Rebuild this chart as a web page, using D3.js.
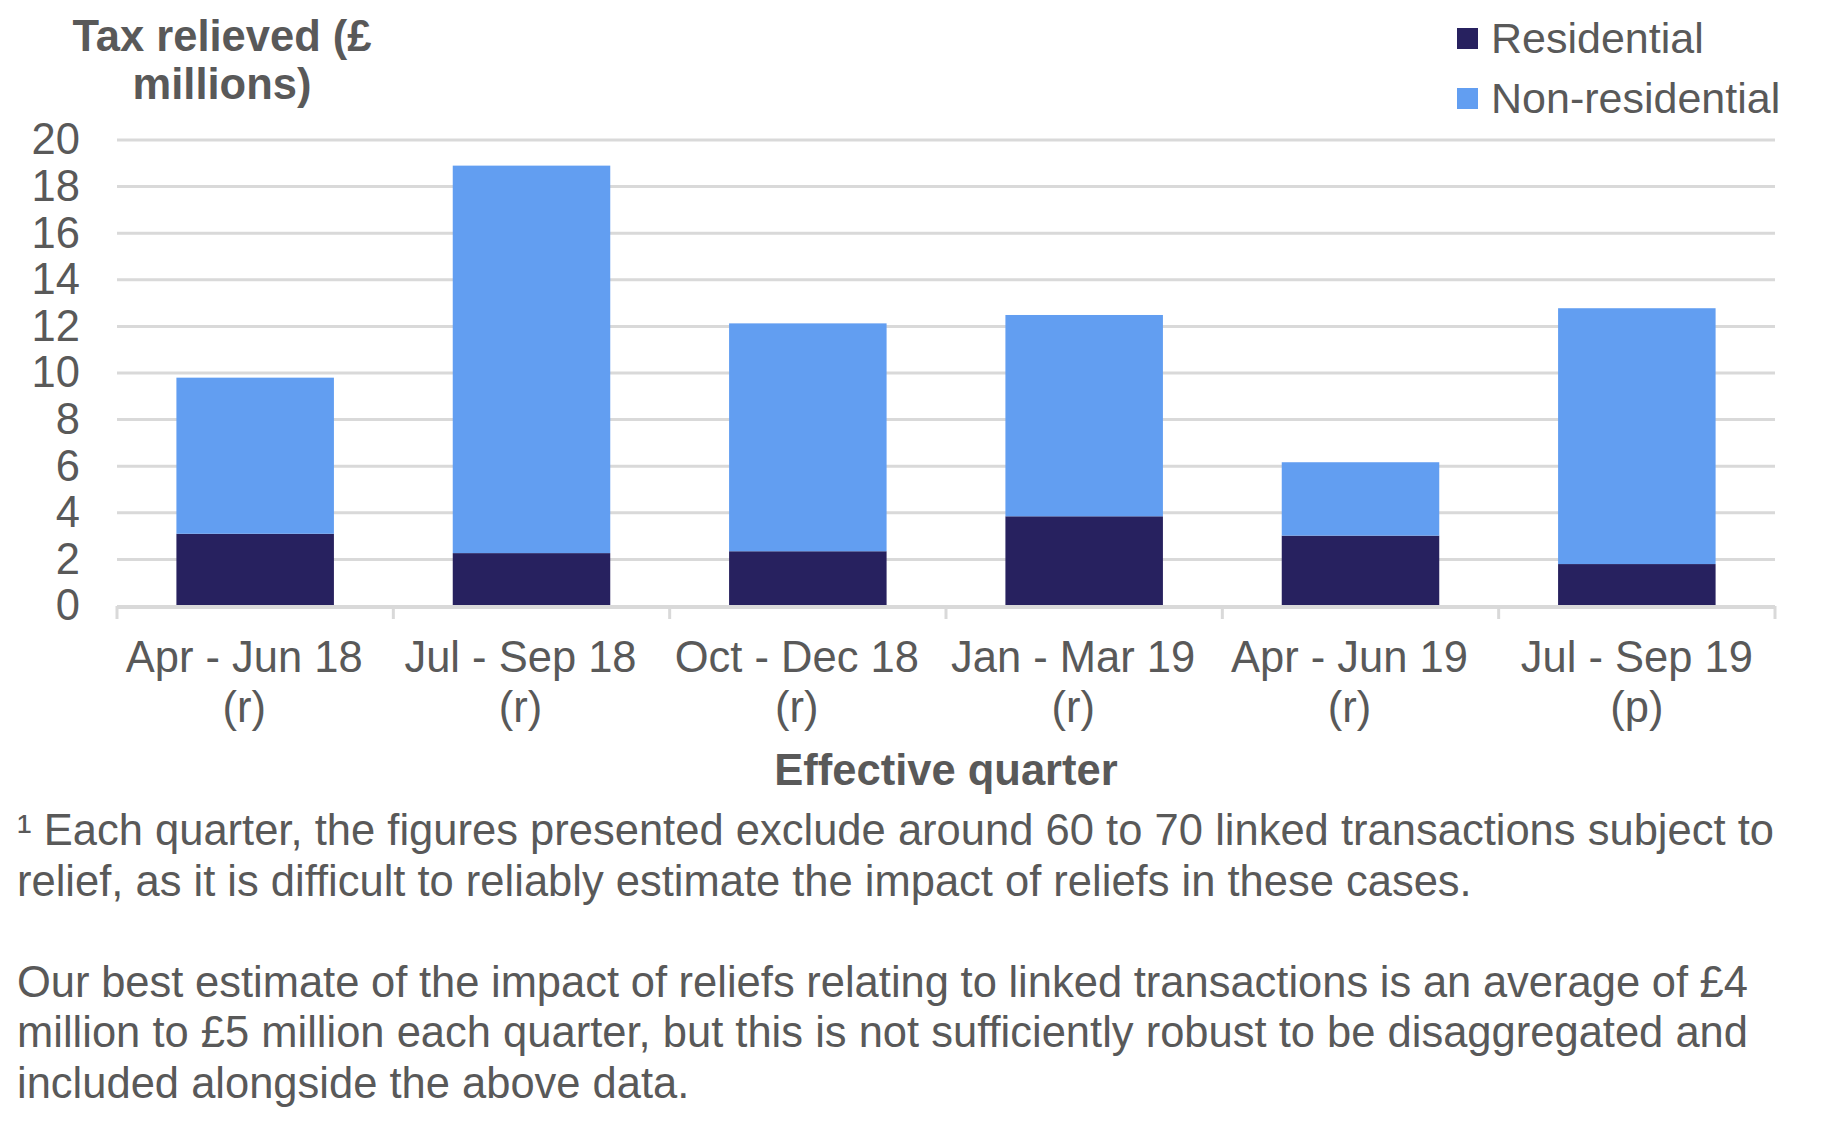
<!DOCTYPE html>
<html>
<head>
<meta charset="utf-8">
<script src="https://cdn.jsdelivr.net/npm/d3@7"></script>
<style>
  html, body { margin: 0; padding: 0; background: #fff; }
  svg { display: block; font-family: "Liberation Sans", Arial, sans-serif; }
</style>
</head>
<body>
<div id="chart"></div>
<script>
// quarters and their revision flag, shown on two lines under the axis
const quarters = ["Apr - Jun 18", "Jul - Sep 18", "Oct - Dec 18", "Jan - Mar 19", "Apr - Jun 19", "Jul - Sep 19"];
const flags = ["(r)", "(r)", "(r)", "(r)", "(r)", "(p)"];

// tax relieved, £ millions
const residential = [3.1, 2.27, 2.35, 3.85, 3.02, 1.8];
const nonResidential = [6.7, 16.63, 9.78, 8.64, 3.15, 10.98];

const series = ["Residential", "Non-residential"];
const yTicks = [0, 2, 4, 6, 8, 10, 12, 14, 16, 18, 20];

const footLines = [
  "\u00b9 Each quarter, the figures presented exclude around 60 to 70 linked transactions subject to",
  "relief, as it is difficult to reliably estimate the impact of reliefs in these cases.",
  "",
  "Our best estimate of the impact of reliefs relating to linked transactions is an average of \u00a34",
  "million to \u00a35 million each quarter, but this is not sufficiently robust to be disaggregated and",
  "included alongside the above data."
];
// lines that are stretched to the full width (justified paragraph)
const justified = [true, false, false, true, true, false];

let width = 1827;
let height = 1128;
let grey = "#595959";
let fs = 43.5;
let color = d3.scaleOrdinal().domain(series).range(["#27215f", "#629ef1"]);

let data = quarters.map((q, i) => ({ quarter: q, "Residential": residential[i], "Non-residential": nonResidential[i] }));
let stacked = d3.stack().keys(series)(data);

let x = d3.scaleBand()
  .domain(quarters)
  .range([117, 1775])
  .paddingInner(0.43)
  .paddingOuter(0.215);

let y = d3.scaleLinear()
  .domain([0, 20])
  .range([606, 140]);

let svg = d3.select("#chart")
  .append("svg")
    .attr("width", width)
    .attr("height", height);

// gridlines
svg.append("g")
  .selectAll("line")
  .data(yTicks.filter(d => d > 0))
  .enter()
  .append("line")
    .attr("x1", 117)
    .attr("x2", 1775)
    .attr("y1", d => y(d))
    .attr("y2", d => y(d))
    .attr("stroke", "#d9d9d9")
    .attr("stroke-width", 3);

// y axis labels (no axis line in the original)
let axeY = d3.axisLeft(y).tickValues(yTicks).tickSize(0).tickPadding(0);
let gy = svg.append("g")
  .attr("transform", "translate(80,0)")
  .call(axeY);
gy.select(".domain").remove();
gy.selectAll("text")
  .attr("fill", grey)
  .attr("font-size", fs)
  .attr("font-family", "Liberation Sans, Arial, sans-serif");

// stacked bars
svg.append("g")
  .selectAll("g")
  .data(stacked)
  .enter()
  .append("g")
    .attr("fill", d => color(d.key))
  .selectAll("rect")
  .data(d => d)
  .enter()
  .append("rect")
    .attr("x", d => x(d.data.quarter))
    .attr("width", x.bandwidth())
    .attr("y", d => y(d[1]))
    .attr("height", d => y(d[0]) - y(d[1]));

// x axis line with ticks at the category boundaries
let bounds = d3.range(quarters.length + 1).map(i => x.range()[0] + i * x.step());
svg.append("line")
  .attr("x1", 117).attr("x2", 1775)
  .attr("y1", y(0) + 1).attr("y2", y(0) + 1)
  .attr("stroke", "#d9d9d9")
  .attr("stroke-width", 4);
svg.append("g")
  .selectAll("line")
  .data(bounds)
  .enter()
  .append("line")
    .attr("x1", d => d).attr("x2", d => d)
    .attr("y1", y(0)).attr("y2", y(0) + 13)
    .attr("stroke", "#d9d9d9")
    .attr("stroke-width", 3);

// category labels sit a little left of the bar centre, except the last one
let labelX = (i) => x(quarters[i]) + x.bandwidth() / 2 + (i < quarters.length - 1 ? -11 : 0);
let labels = svg.append("g")
  .attr("fill", grey)
  .attr("font-size", fs)
  .attr("text-anchor", "middle");
labels.selectAll("text.q")
  .data(quarters)
  .enter()
  .append("text")
    .attr("class", "q")
    .attr("x", (d, i) => labelX(i))
    .attr("y", 672)
    .text(d => d);
labels.selectAll("text.f")
  .data(flags)
  .enter()
  .append("text")
    .attr("class", "f")
    .attr("x", (d, i) => labelX(i))
    .attr("y", 722)
    .text(d => d);

// axis titles
svg.append("text")
  .attr("x", 946)
  .attr("y", 785)
  .attr("text-anchor", "middle")
  .attr("font-size", fs)
  .attr("font-weight", "bold")
  .attr("fill", grey)
  .text("Effective quarter");

let ytitle = svg.append("text")
  .attr("text-anchor", "middle")
  .attr("font-size", fs)
  .attr("font-weight", "bold")
  .attr("fill", grey);
ytitle.append("tspan").attr("x", 222).attr("y", 51).text("Tax relieved (\u00a3");
ytitle.append("tspan").attr("x", 222).attr("y", 99).text("millions)");

// legend
let legend = svg.append("g")
  .selectAll("g")
  .data(series)
  .enter()
  .append("g")
    .attr("transform", (d, i) => `translate(1457,${28 + i * 60})`);
legend.append("rect")
  .attr("width", 21)
  .attr("height", 21)
  .attr("fill", d => color(d));
legend.append("text")
  .attr("x", 34)
  .attr("y", 25)
  .attr("font-size", 43)
  .attr("fill", grey)
  .text(d => d);

// footnote
let foot = svg.append("g")
  .attr("fill", grey)
  .attr("font-size", fs);
foot.selectAll("text")
  .data(footLines)
  .enter()
  .append("text")
    .attr("x", 17)
    .attr("y", (d, i) => 845 + i * 50.6)
    .text(d => d)
    .each(function(d, i) {
      if (!justified[i]) return;
      let gaps = d.split(" ").length - 1;
      let target = i === 0 ? 1774 - 17 : 1748 - 17;
      let extra = (target - this.getComputedTextLength()) / gaps;
      d3.select(this).attr("word-spacing", extra);
    });
</script>
</body>
</html>
